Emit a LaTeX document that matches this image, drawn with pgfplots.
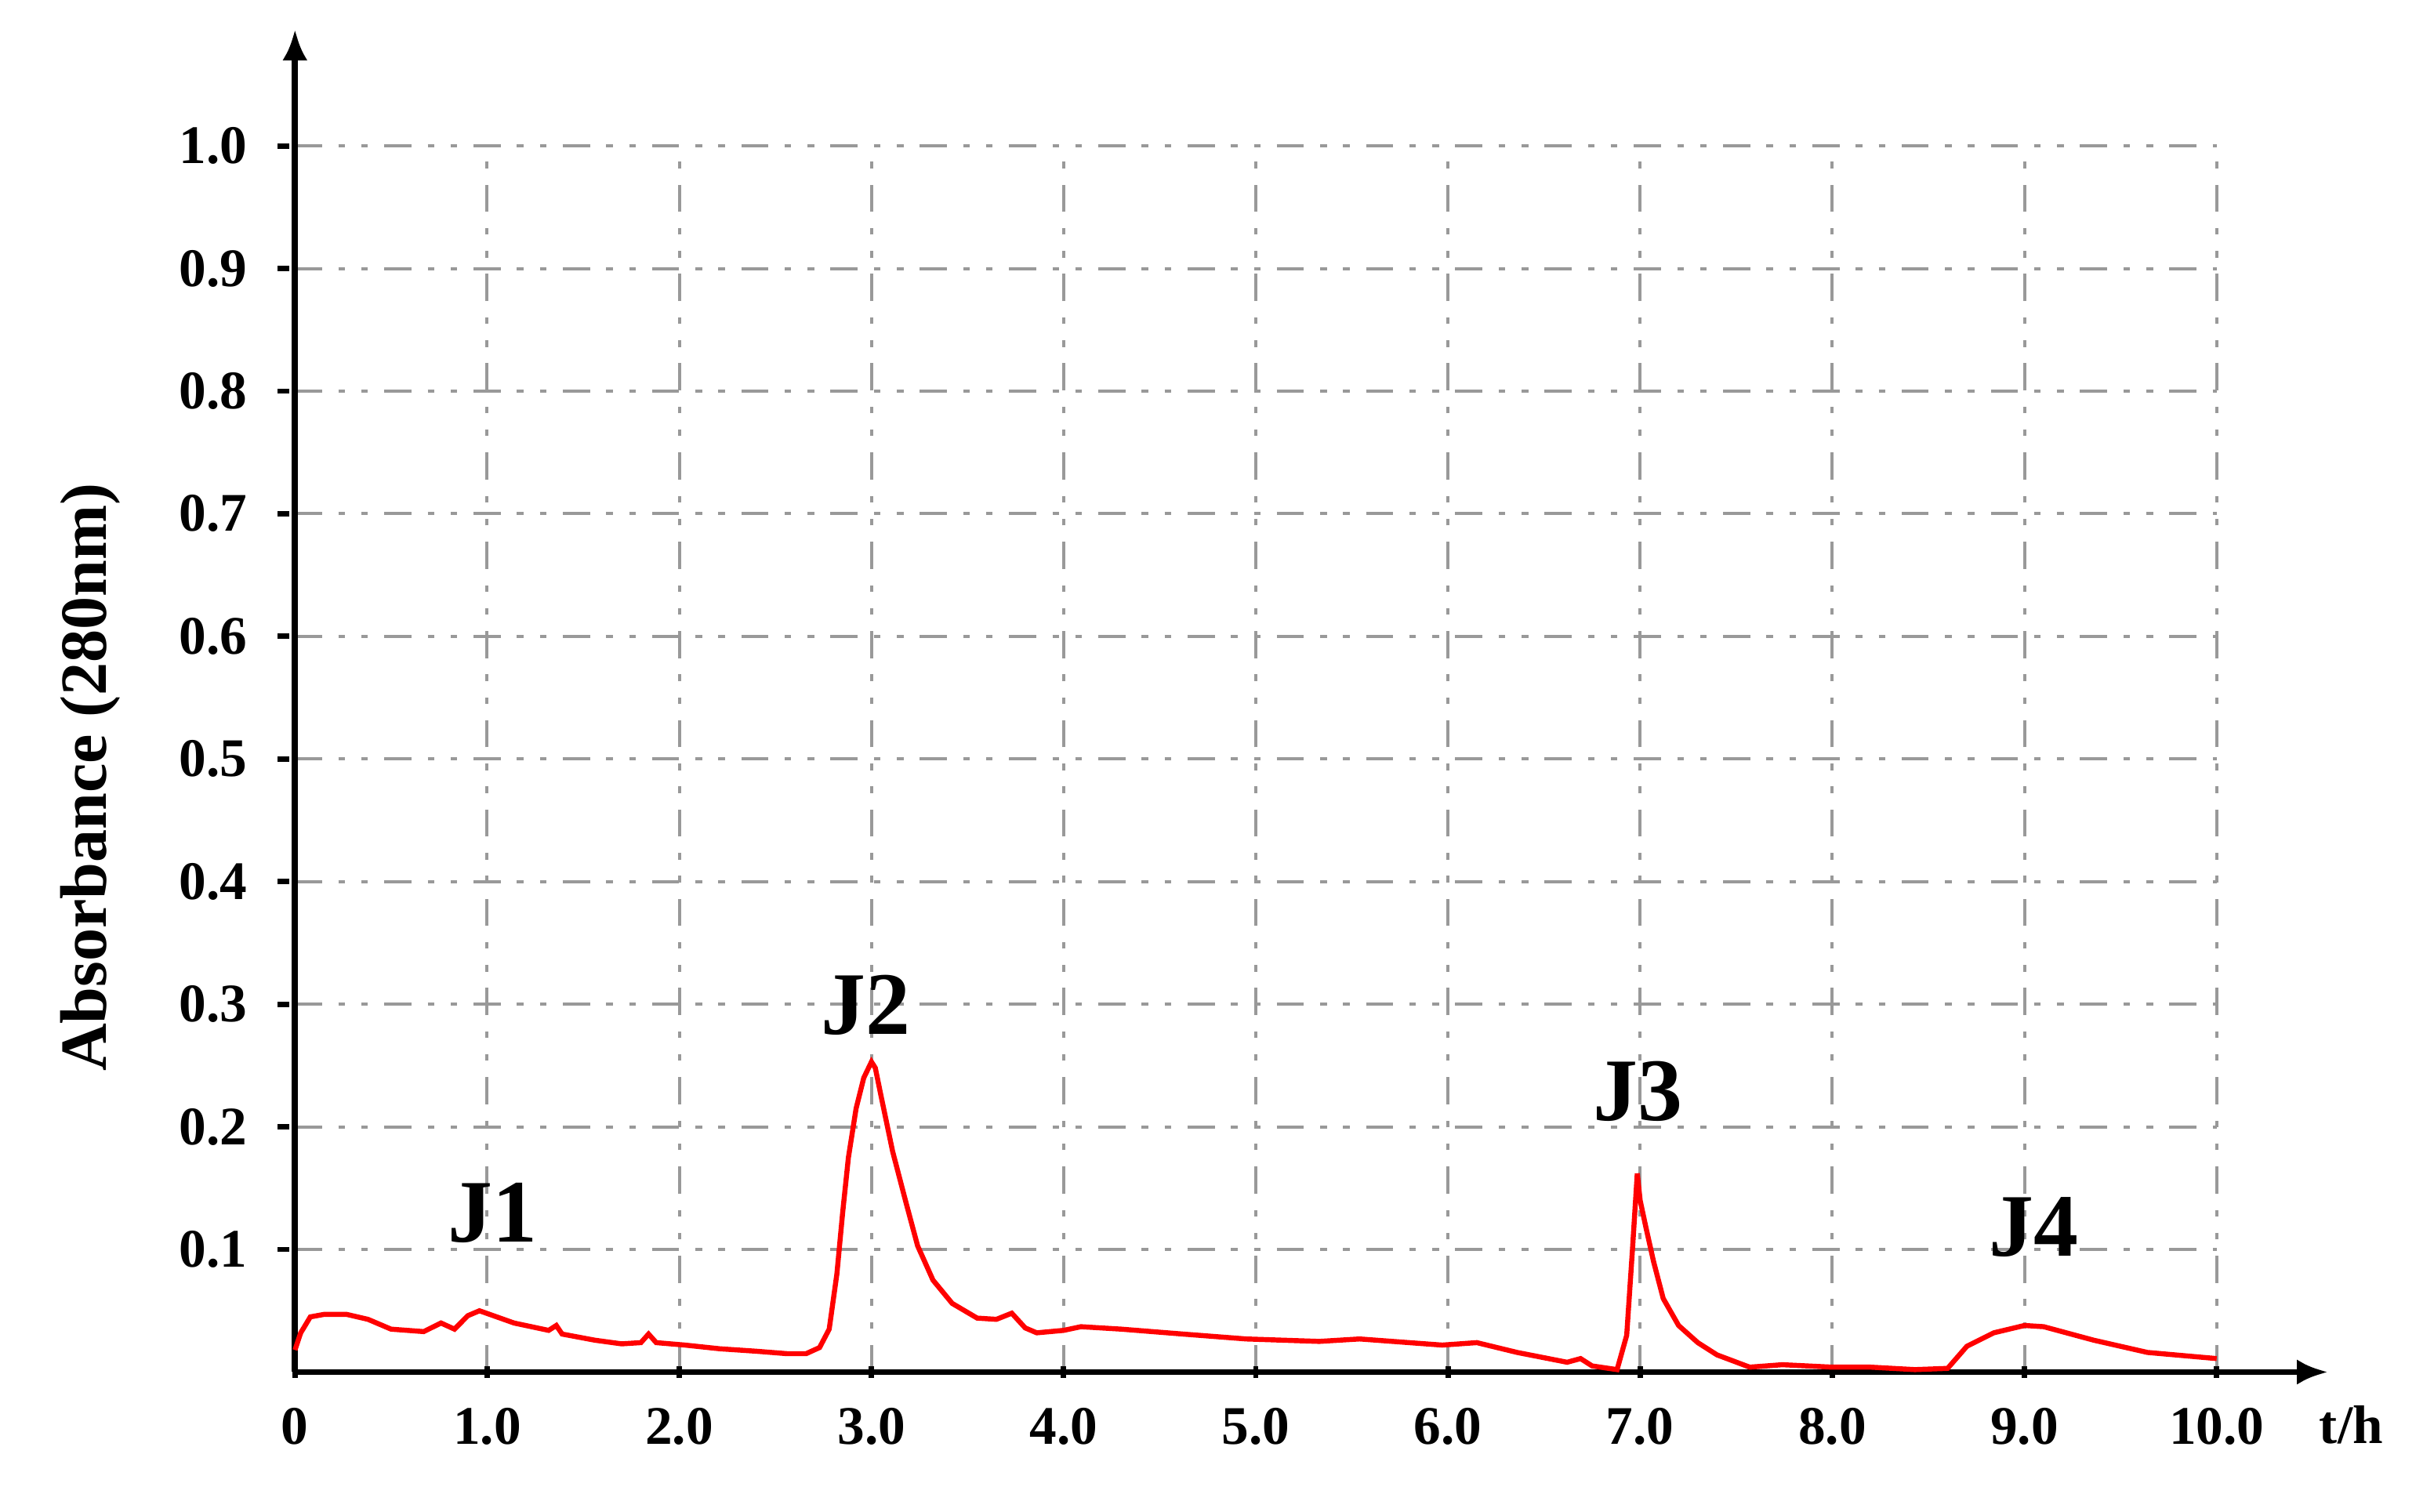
\documentclass[border=0pt]{standalone}
\usepackage{pgfplots}
\pgfplotsset{compat=1.18}
\usepackage{fontspec}
\setmainfont{Liberation Serif}
\usetikzlibrary{arrows.meta}
\pgfplotstableread{
x y
0.00 0.018
0.03 0.032
0.08 0.045
0.15 0.047
0.27 0.047
0.38 0.043
0.50 0.035
0.67 0.033
0.76 0.040
0.83 0.035
0.90 0.046
0.96 0.050
1.05 0.045
1.14 0.040
1.32 0.034
1.36 0.038
1.39 0.031
1.56 0.026
1.70 0.023
1.80 0.024
1.84 0.031
1.88 0.024
2.03 0.022
2.21 0.019
2.40 0.017
2.56 0.015
2.66 0.015
2.73 0.020
2.78 0.035
2.82 0.080
2.85 0.130
2.88 0.175
2.92 0.215
2.96 0.240
3.00 0.253
3.02 0.248
3.05 0.225
3.11 0.180
3.18 0.138
3.24 0.103
3.32 0.075
3.42 0.056
3.55 0.044
3.65 0.043
3.73 0.048
3.80 0.036
3.86 0.032
4.00 0.034
4.09 0.037
4.30 0.035
4.62 0.031
4.95 0.027
5.33 0.025
5.54 0.027
5.97 0.022
6.15 0.024
6.36 0.016
6.62 0.008
6.69 0.011
6.75 0.005
6.88 0.002
6.93 0.030
6.96 0.100
6.985 0.162
7.00 0.140
7.03 0.118
7.07 0.090
7.12 0.060
7.20 0.038
7.30 0.024
7.40 0.014
7.57 0.004
7.74 0.006
8.00 0.004
8.20 0.004
8.43 0.002
8.60 0.003
8.70 0.021
8.84 0.032
9.00 0.038
9.10 0.037
9.36 0.026
9.64 0.016
10.00 0.011
}\curvedata
\begin{document}
\begin{tikzpicture}
\begin{axis}[
  scale only axis,
  width=495.2pt, height=316pt,
  xmin=0, xmax=10, ymin=0, ymax=1,
  axis lines=left,
  clip=false,
  axis line style={line width=1.6pt},
  x axis line style={-{Latex[length=8pt,width=6.5pt]}, shorten >=-28.7pt},
  y axis line style={-{Latex[length=8pt,width=6.5pt]}, shorten >=-30pt},
  xtick={0,1,2,3,4,5,6,7,8,9,10},
  xticklabels={0,1.0,2.0,3.0,4.0,5.0,6.0,7.0,8.0,9.0,10.0},
  ytick={0.1,0.2,0.3,0.4,0.5,0.6,0.7,0.8,0.9,1.0},
  yticklabels={0.1,0.2,0.3,0.4,0.5,0.6,0.7,0.8,0.9,1.0},
  major tick length=3pt,
  tick style={black, line width=1.4pt},
  ytick style={xshift=-3pt},
  tick label style={font=\fontsize{14}{14}\selectfont\bfseries},
  xticklabel style={yshift=-4.2pt},
  yticklabel style={xshift=-7.3pt},
  grid=major,
  major grid style={black!40, line width=0.8pt, dash pattern=on 7pt off 4.2pt on 1.7pt off 4.2pt on 1.7pt off 4.2pt},
  ylabel={Absorbance (280nm)},
  ylabel style={at={(axis description cs:-0.1066,0.485)}, anchor=center, font=\fontsize{17}{17}\selectfont\bfseries},
  xlabel={t/h},
  xlabel style={at={(axis description cs:1.070,-0.043)}, anchor=center, font=\fontsize{14}{14}\selectfont\bfseries},
]
\path (axis cs:-1.535,-0.114) rectangle (axis cs:11.131,1.119);
\addplot[red, line width=1.3pt, no marks] table[x=x, y=y] {\curvedata};
\node[font=\fontsize{23}{23}\selectfont\bfseries] at (axis cs:1.03,0.130) {J1};
\node[font=\fontsize{23}{23}\selectfont\bfseries] at (axis cs:2.97,0.299) {J2};
\node[font=\fontsize{23}{23}\selectfont\bfseries] at (axis cs:6.99,0.229) {J3};
\node[font=\fontsize{23}{23}\selectfont\bfseries] at (axis cs:9.05,0.118) {J4};
\end{axis}
\end{tikzpicture}
\end{document}
